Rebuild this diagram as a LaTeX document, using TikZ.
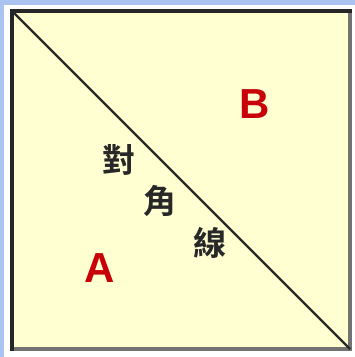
\documentclass[tikz,border=0pt]{standalone}
\usepackage{fontspec}
\setmainfont{Liberation Sans}
\newfontfamily\cjk{Noto Sans CJK TC}[BoldFont={Noto Sans CJK TC Bold}]
\definecolor{bgblue}{RGB}{170,195,240}
\definecolor{paper}{RGB}{255,255,210}
\definecolor{lbl}{RGB}{200,0,10}
\definecolor{ink}{RGB}{40,40,40}
\tikzset{
  letter/.style={text=lbl,font=\fontsize{42}{42}\selectfont\bfseries,inner sep=0pt},
  hanzi/.style={text=ink,font=\cjk\fontsize{33}{33}\selectfont\bfseries,inner sep=0pt}
}
\begin{document}
\begin{tikzpicture}[x=1pt,y=-1pt]
\useasboundingbox (0,0) rectangle (355,357);
\fill[bgblue] (0,0) rectangle (355,357);
\fill[white] (4,5) rectangle (355,357);
\fill[paper] (12,11) rectangle (350,349);
\draw[gray!90!black,line width=4pt] (350,9) -- (350,349) -- (10,349);
\draw[black!85,line width=4pt] (12,351) -- (12,11) -- (352,11);
\coordinate (tl) at (12,11);
\coordinate (br) at (350,349);
\draw[ink,line width=2.2pt] (tl) -- (br);
\node[letter] (B) at (255,104) {B};
\node[letter] (A) at (100,268) {A};
\node[hanzi] (c1) at (119,160) {對};
\node[hanzi] (c2) at (160,201) {角};
\node[hanzi] (c3) at (210,243) {線};
\end{tikzpicture}
\end{document}
